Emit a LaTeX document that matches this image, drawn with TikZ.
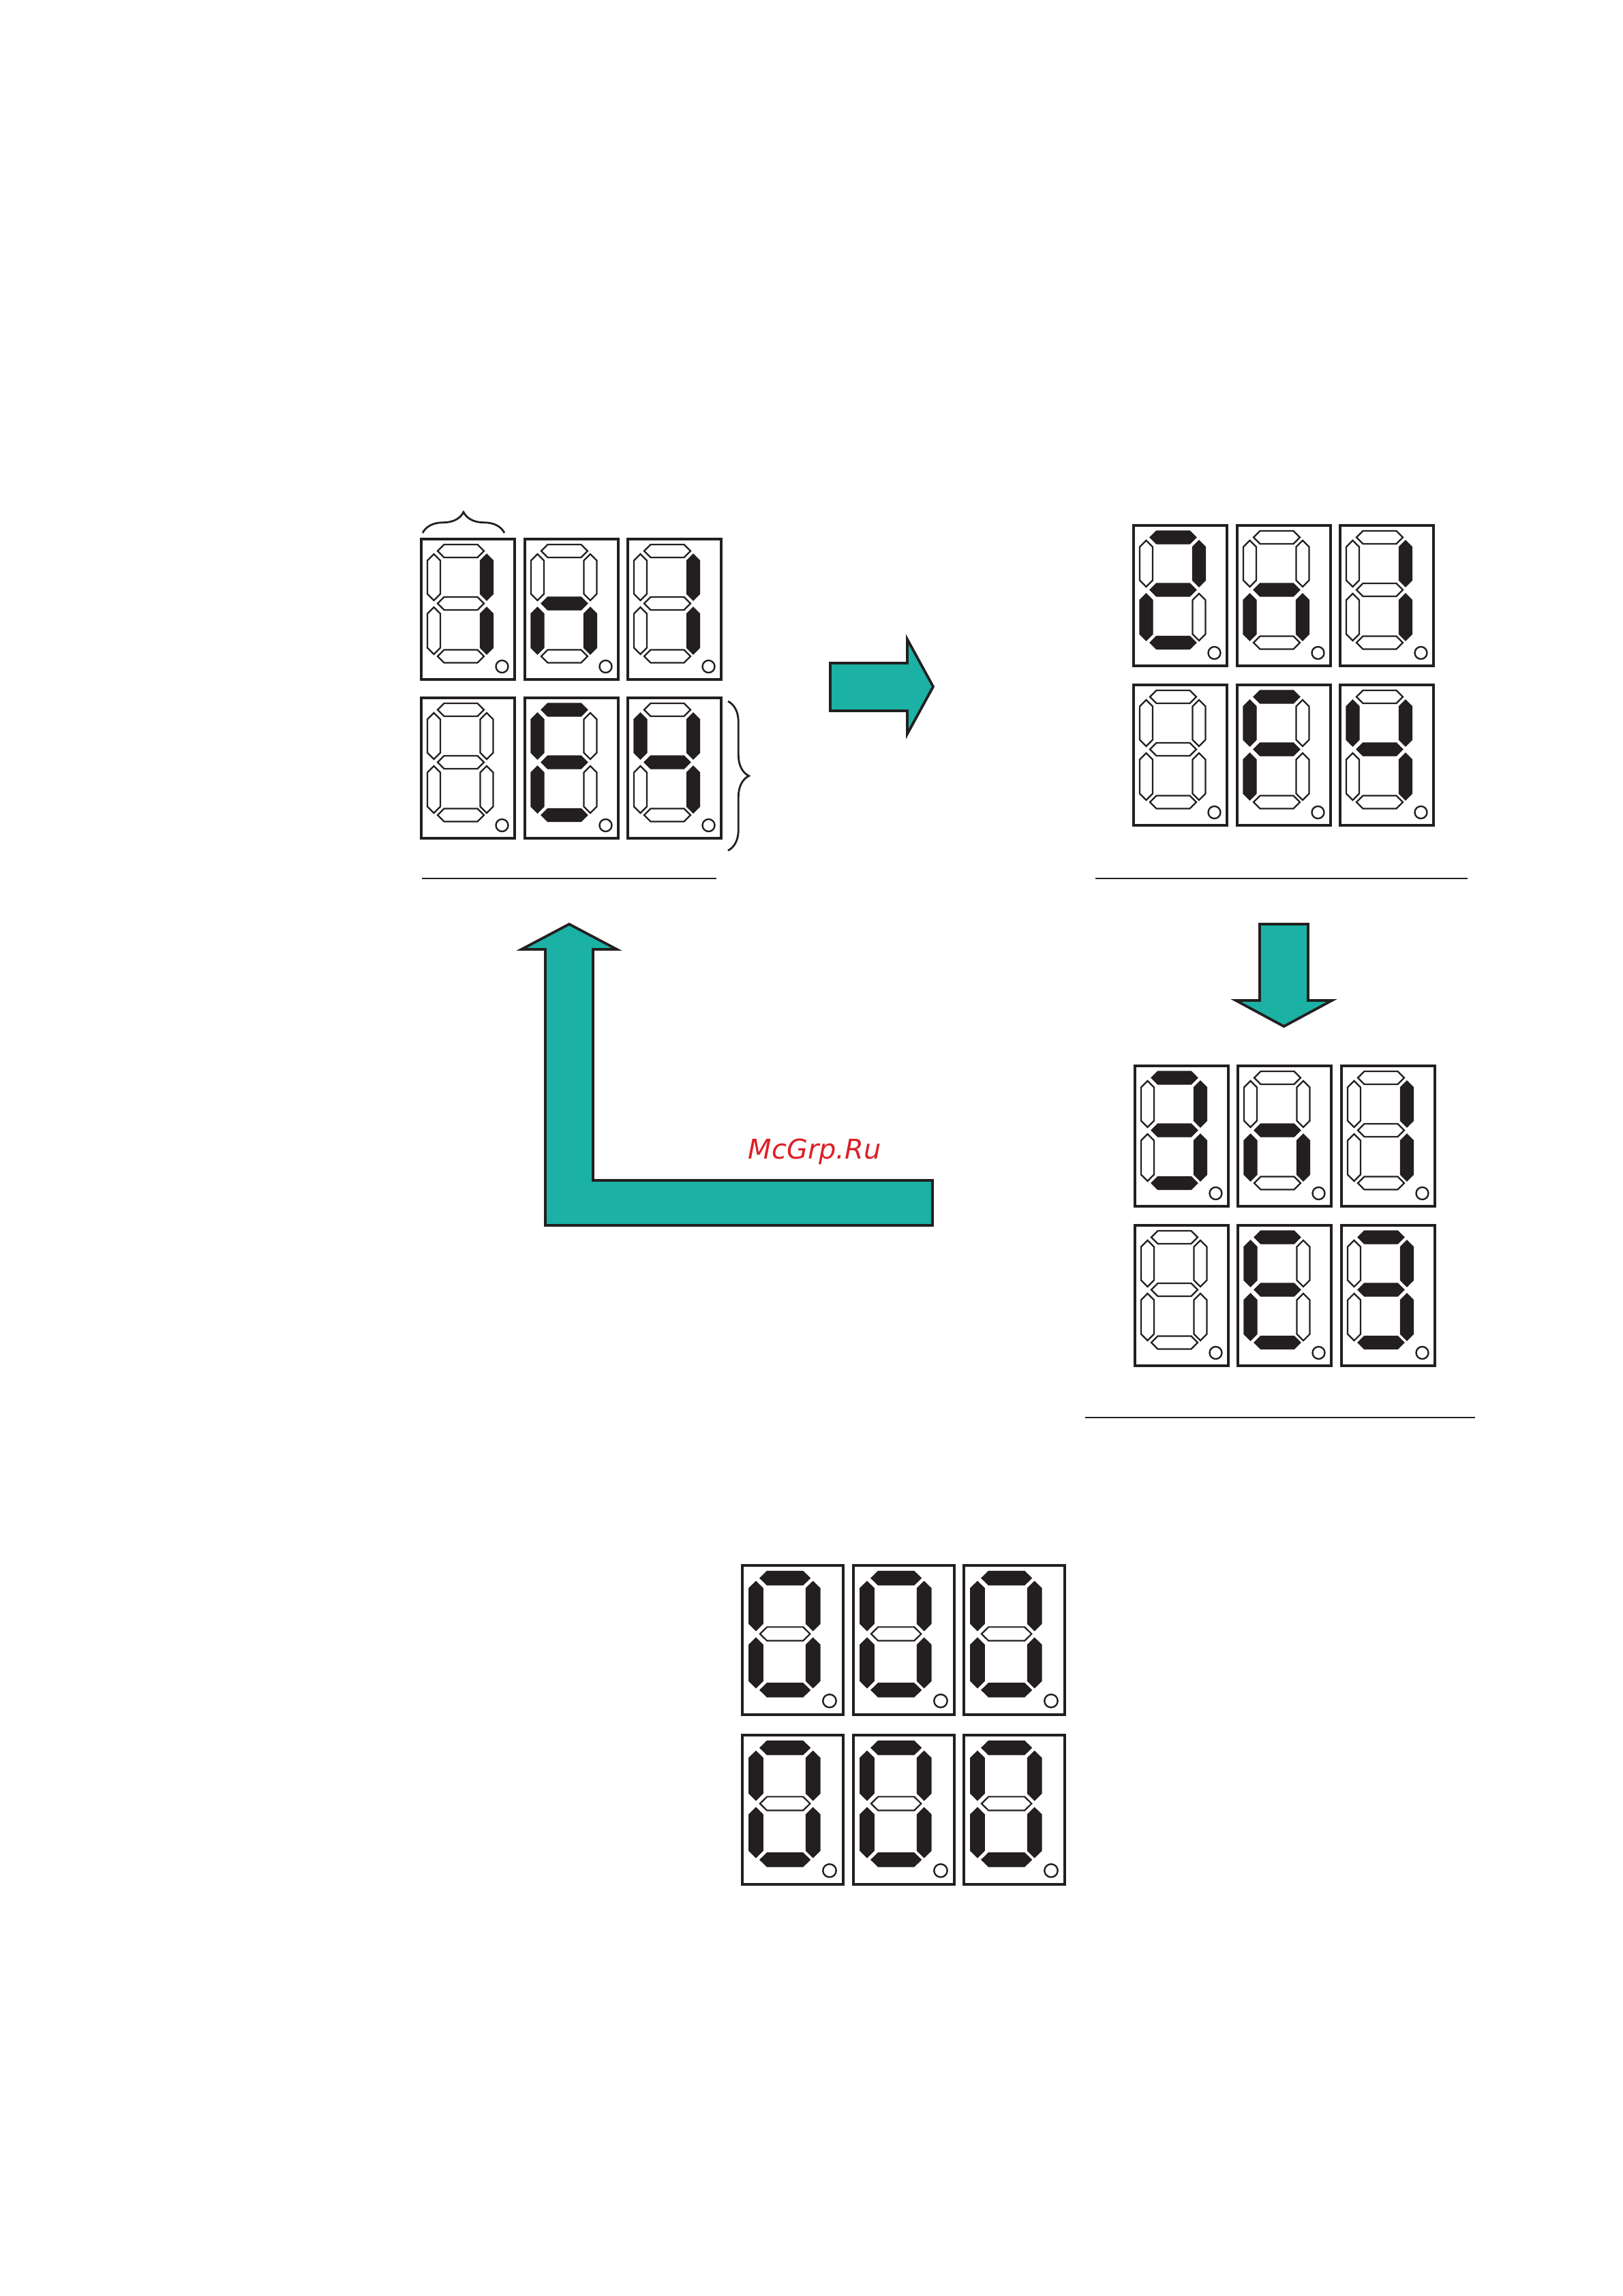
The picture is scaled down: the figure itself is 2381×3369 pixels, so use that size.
\documentclass[tikz,border=0pt]{standalone}
\usepackage{fontspec}
\newfontfamily\wmfont{DejaVu Sans}[ItalicFont={DejaVu Sans Oblique}]
\usetikzlibrary{decorations.pathreplacing}

\definecolor{ink}{RGB}{35,31,32}
\definecolor{arrowteal}{RGB}{27,178,165}
\definecolor{wmred}{RGB}{220,32,38}

% which of the segments a..g are lit
\tikzset{
  digit/.style n args={7}{sega/.style={seg#1}, segb/.style={seg#2}, segc/.style={seg#3},
    segd/.style={seg#4}, sege/.style={seg#5}, segf/.style={seg#6}, segg/.style={seg#7}},
  digoff/.style={digit={0}{0}{0}{0}{0}{0}{0}},
  dig0/.style={digit={1}{1}{1}{1}{1}{1}{0}},
  dig1/.style={digit={0}{1}{1}{0}{0}{0}{0}},
  dig2/.style={digit={1}{1}{0}{1}{1}{0}{1}},
  dig3/.style={digit={1}{1}{1}{1}{0}{0}{1}},
  dig4/.style={digit={0}{1}{1}{0}{0}{1}{1}},
  digE/.style={digit={1}{0}{0}{1}{1}{1}{1}},
  digF/.style={digit={1}{0}{0}{0}{1}{1}{1}},
  dign/.style={digit={0}{0}{1}{0}{1}{0}{1}},
  ledsize/.style={}
}

% one display: top left corner x, y and the digit
\newcommand{\ledbox}[3]{%
  \begin{scope}[shift={(#1,#2)}, ledsize, #3]
    \draw[boxline] (0,0) rectangle (137,206);
    \path[sega] (24,17.5) -- ++(9.5,-9.5) -- ++(49,0) -- ++(9.5,9.5) -- ++(-9.5,9.5) -- ++(-49,0) -- cycle;
    \path[segg] (24,94.5) -- ++(9.5,-9.5) -- ++(49,0) -- ++(9.5,9.5) -- ++(-9.5,9.5) -- ++(-49,0) -- cycle;
    \path[segd] (24,172) -- ++(9.5,-9.5) -- ++(49,0) -- ++(9.5,9.5) -- ++(-9.5,9.5) -- ++(-49,0) -- cycle;
    \path[segf] (18.5,22) -- ++(9.5,9.5) -- ++(0,49) -- ++(-9.5,9.5) -- ++(-9.5,-9.5) -- ++(0,-49) -- cycle;
    \path[segb] (96,22) -- ++(9.5,9.5) -- ++(0,49) -- ++(-9.5,9.5) -- ++(-9.5,-9.5) -- ++(0,-49) -- cycle;
    \path[sege] (18.5,100) -- ++(9.5,9.5) -- ++(0,50) -- ++(-9.5,9.5) -- ++(-9.5,-9.5) -- ++(0,-50) -- cycle;
    \path[segc] (96,100) -- ++(9.5,9.5) -- ++(0,50) -- ++(-9.5,9.5) -- ++(-9.5,-9.5) -- ++(0,-50) -- cycle;
    \draw[dpline] (118.5,187) circle (9);
  \end{scope}}

\begin{document}
\begin{tikzpicture}[x=0.0882mm, y=-0.0882mm,
    boxline/.style={draw=ink, line width=0.8pt},
    seg0/.style={draw=ink, line width=0.55pt},
    seg1/.style={fill=ink, draw=ink, line width=0.3pt},
    dpline/.style={draw=ink, line width=0.6pt},
    bigarrow/.style={fill=arrowteal, draw=ink, line width=0.95pt},
    rule/.style={draw=ink, line width=0.7pt},
    grp/.style={draw=ink, line width=0.7pt, decorate, decoration={brace, amplitude=2.7mm}},
    wmtext/.style={font=\wmfont\itshape\fontsize{10}{12}\selectfont, text=wmred, inner sep=0pt}]
  \fill[white] (0,0) rectangle (2381,3369);

  % first reading
  \ledbox{618}{791}{dig1}
  \ledbox{770}{791}{dign}
  \ledbox{921}{791}{dig1}
  \ledbox{618}{1024}{digoff}
  \ledbox{770}{1024}{digE}
  \ledbox{921}{1024}{dig4}
  \draw[grp] (620,782) -- (740,782);
  \draw[grp] (1068,1029) -- (1068,1248);
  \draw[rule] (619,1289) -- (1051,1289);

  % second reading
  \ledbox{1663}{771}{dig2}
  \ledbox{1815}{771}{dign}
  \ledbox{1966}{771}{dig1}
  \ledbox{1663}{1005}{digoff}
  \ledbox{1815}{1005}{digF}
  \ledbox{1966}{1005}{dig4}
  \draw[rule] (1607,1289) -- (2153,1289);

  % third reading
  \ledbox{1665}{1564}{dig3}
  \ledbox{1816}{1564}{dign}
  \ledbox{1968}{1564}{dig1}
  \ledbox{1665}{1798}{digoff}
  \ledbox{1816}{1798}{digE}
  \ledbox{1968}{1798}{dig3}
  \draw[rule] (1592,2080) -- (2164,2080);

  % arrows
  \draw[bigarrow] (1218,973) -- (1331,973) -- (1331,938) -- (1369,1007.5) -- (1331,1077) -- (1331,1043) -- (1218,1043) -- cycle;
  \draw[bigarrow] (1848,1356) -- (1919,1356) -- (1919,1468) -- (1954,1468) -- (1883.5,1506) -- (1813,1468) -- (1848,1468) -- cycle;
  \draw[bigarrow] (800,1798) -- (800,1393) -- (765,1393) -- (835,1356) -- (905,1393) -- (870,1393) -- (870,1732) -- (1368,1732) -- (1368,1798) -- cycle;
  \node[wmtext, anchor=base west] (site) at (1097,1700) {McGrp.Ru};

  % all segments on
  \begin{scope}[ledsize/.style={xscale=1.08, yscale=1.063}]
    \ledbox{1089}{2297}{dig0}
    \ledbox{1252}{2297}{dig0}
    \ledbox{1414}{2297}{dig0}
    \ledbox{1089}{2546}{dig0}
    \ledbox{1252}{2546}{dig0}
    \ledbox{1414}{2546}{dig0}
  \end{scope}
\end{tikzpicture}
\end{document}
